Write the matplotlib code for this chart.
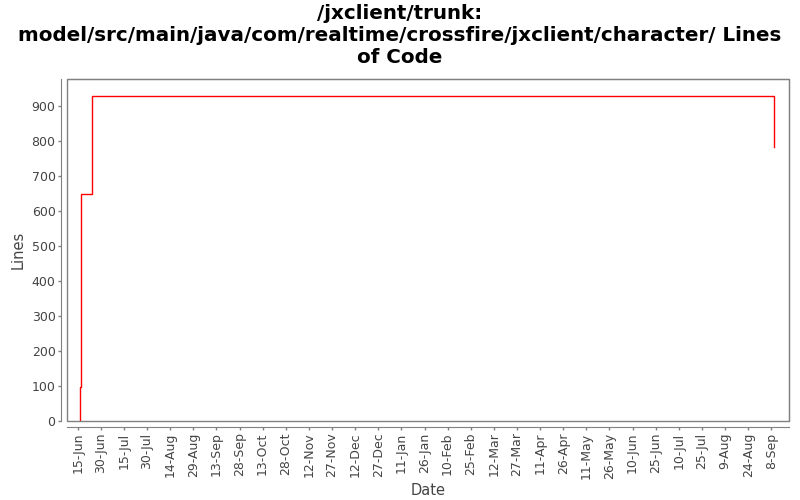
import datetime as dt
import matplotlib
matplotlib.use('Agg')
import matplotlib.pyplot as plt
import matplotlib.dates as mdates
from matplotlib.patches import Rectangle
import pandas as pd

# step data (lines of code over time)
dates = [dt.datetime(2008, 6, 16, 16), dt.datetime(2008, 6, 16, 17),
         dt.datetime(2008, 6, 17, 8), dt.datetime(2008, 6, 24, 11),
         dt.datetime(2009, 9, 9, 17)]
lines = [0, 97, 648, 928, 784]

tick_dates = pd.date_range('2008-06-15', periods=31, freq='15D')
title = ('/jxclient/trunk:\nmodel/src/main/java/com/realtime/crossfire/jxclient/character/ Lines\nof Code')

grey = '#808080'
txt = '#444444'

fig = plt.figure(figsize=(8, 5), dpi=100)
ax = fig.add_axes([0.0834, 0.1574, 0.9025, 0.6846])

ax.step(dates, lines, where='post', color='red', lw=1)

ax.set_xlim(dt.datetime(2008, 6, 7, 21), dt.datetime(2009, 9, 19, 7))
ax.set_ylim(0, 977)
ax.set_yticks(range(0, 1000, 100))
ax.set_xticks(tick_dates)
ax.xaxis.set_major_formatter(mdates.DateFormatter('%-d-%b'))
ax.tick_params(axis='x', labelrotation=90)

for s in ['top', 'right']:
    ax.spines[s].set_color(grey)
for s in ['left', 'bottom']:
    ax.spines[s].set_position(('outward', 4))
    ax.spines[s].set_color(grey)
ax.add_patch(Rectangle((0, 0), 1, 1, transform=ax.transAxes, fill=False,
                       edgecolor=grey, lw=1, clip_on=False))
ax.tick_params(colors=grey, labelcolor=txt, labelsize=9, length=2, width=1, pad=2)

ax.set_xlabel('Date', fontsize=10.5, color=txt, labelpad=3)
ax.set_ylabel('Lines', fontsize=10.5, color=txt)
fig.suptitle(title, fontsize=14.3, fontweight='bold', y=0.992, linespacing=1.2)

fig.savefig('out.png')
